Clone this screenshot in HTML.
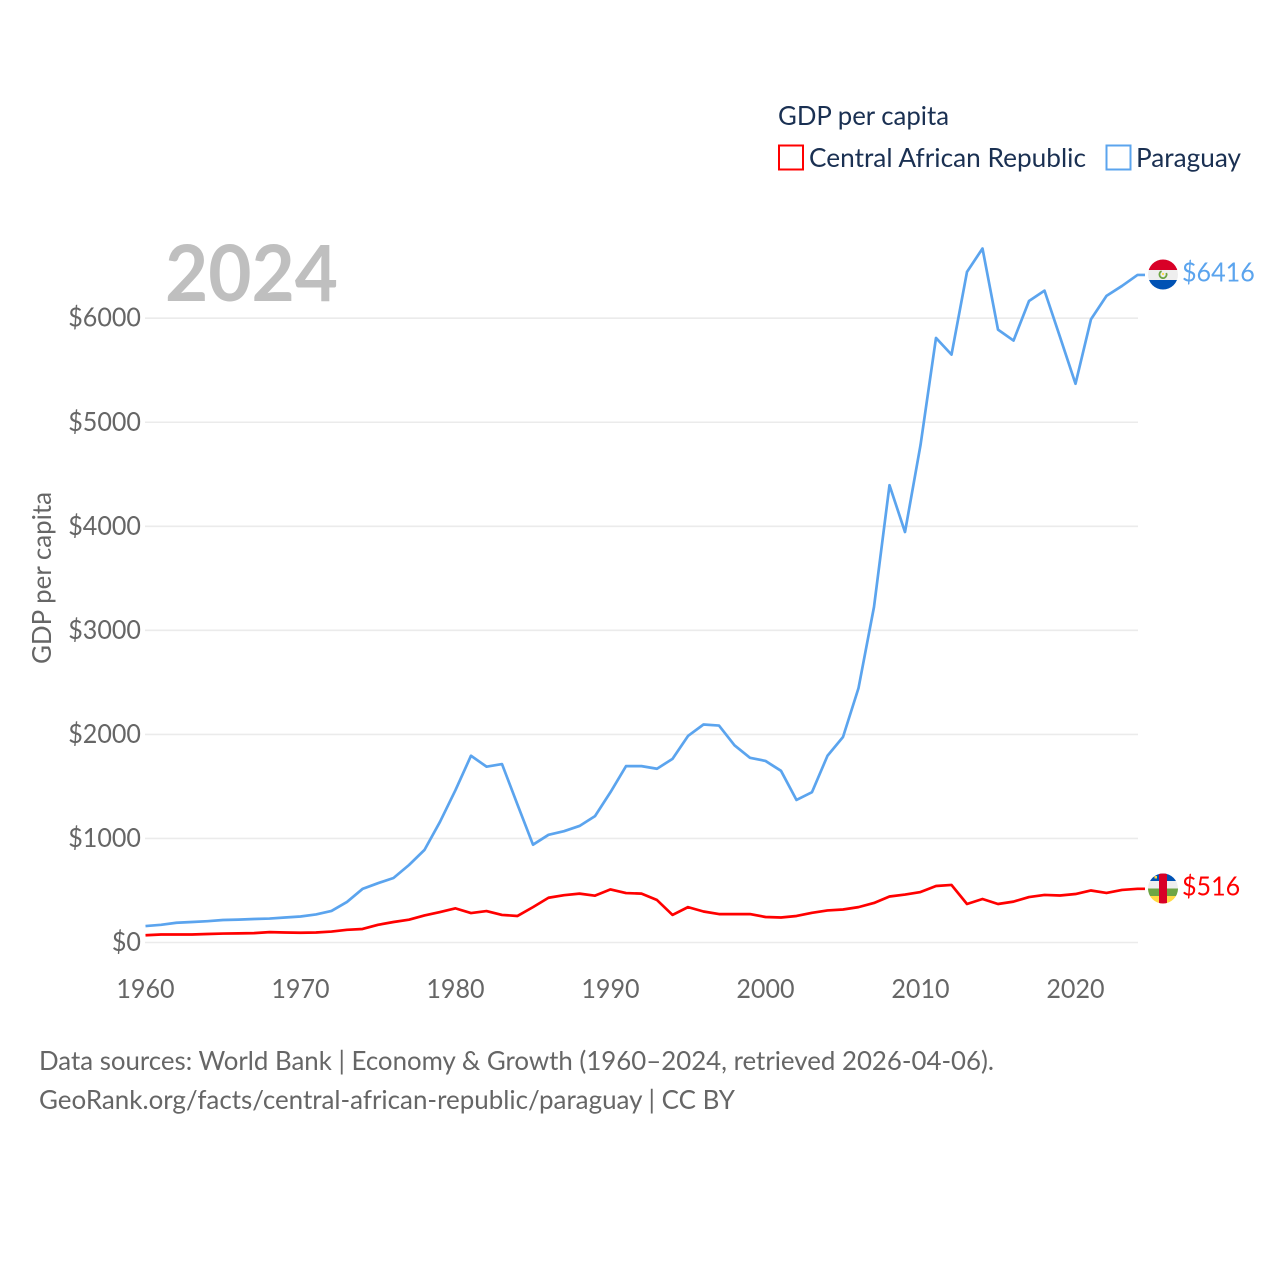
<!DOCTYPE html>
<html lang="en">
<head>
<meta charset="utf-8">
<title>GDP per capita: Central African Republic vs Paraguay</title>
<style>
html,body{margin:0;padding:0;background:#fff;width:1280px;height:1280px;overflow:hidden}
svg{display:block}
text{font-family:"Lato","Carlito","Liberation Sans",sans-serif}
</style>
</head>
<body>
<svg id="chart" xmlns="http://www.w3.org/2000/svg" width="1280" height="1280" viewBox="0 0 1280 1280">
  <defs>
    <clipPath id="clip-py"><circle id="clip-py-c" cx="1163" cy="274.5" r="15"/></clipPath>
    <clipPath id="clip-cf"><circle id="clip-cf-c" cx="1163" cy="888.5" r="15"/></clipPath>
  </defs>
  <rect width="1280" height="1280" fill="#fff"/>
  <g id="grid"></g>
  <text x="165" y="301" font-size="78" font-weight="700" fill="#bfbfbf" textLength="173" lengthAdjust="spacingAndGlyphs">2024</text>
  <g id="yticks"></g>
  <g id="xticks"></g>
  <text transform="translate(51,578) rotate(-90)" text-anchor="middle" font-size="26" fill="#666" textLength="172" lengthAdjust="spacingAndGlyphs">GDP per capita</text>
  <g id="series"></g>

  <g>
    <text x="778" y="125" font-size="26" fill="#1a3052" textLength="171" lengthAdjust="spacingAndGlyphs">GDP per capita</text>
    <g>
      <rect x="779" y="145.5" width="24" height="24" fill="none" stroke="#ff0000" stroke-width="2"/>
      <text x="809" y="167" font-size="26" fill="#1a3052" textLength="277" lengthAdjust="spacingAndGlyphs">Central African Republic</text>
    </g>
    <g>
      <rect x="1106.5" y="145.5" width="24" height="24" fill="none" stroke="#5ba4ee" stroke-width="2"/>
      <text x="1136" y="167" font-size="26" fill="#1a3052" textLength="105" lengthAdjust="spacingAndGlyphs">Paraguay</text>
    </g>
  </g>

  <g id="flag-py" clip-path="url(#clip-py)">
    <rect x="1148" y="259" width="30" height="11" fill="#d80027"/>
    <rect x="1148" y="270" width="30" height="10" fill="#eeeeee"/>
    <rect x="1148" y="280" width="30" height="11" fill="#0052b4"/>
    <circle cx="1163" cy="274.5" r="3.6" fill="none" stroke="#6da544" stroke-width="1.8" stroke-dasharray="17 6" transform="rotate(-25 1163 274.5)"/>
    <circle cx="1163" cy="274" r="1.1" fill="#ffda44"/>
  </g>
  <g id="flag-cf" clip-path="url(#clip-cf)">
    <rect x="1148" y="873" width="30" height="8" fill="#0052b4"/>
    <rect x="1148" y="881" width="30" height="7.5" fill="#eeeeee"/>
    <rect x="1148" y="888.5" width="30" height="7.5" fill="#6da544"/>
    <rect x="1148" y="896" width="30" height="9" fill="#ffda44"/>
    <rect x="1159" y="873" width="8" height="32" fill="#d80027"/>
    <rect x="1154.5" y="876" width="2.5" height="2.5" fill="#ffda44"/>
  </g>
  <g id="endlabels"></g>

  <g>
    <text x="39" y="1070" font-size="26" fill="#666" textLength="955" lengthAdjust="spacingAndGlyphs">Data sources: World Bank | Economy &amp; Growth (1960–2024, retrieved 2026-04-06).</text>
    <text x="39" y="1109" font-size="26" fill="#666" textLength="696" lengthAdjust="spacingAndGlyphs">GeoRank.org/facts/central-african-republic/paraguay | CC BY</text>
  </g>
</svg>
<script>
const years = [1960,1961,1962,1963,1964,1965,1966,1967,1968,1969,1970,1971,1972,1973,1974,1975,1976,1977,1978,1979,1980,1981,1982,1983,1984,1985,1986,1987,1988,1989,1990,1991,1992,1993,1994,1995,1996,1997,1998,1999,2000,2001,2002,2003,2004,2005,2006,2007,2008,2009,2010,2011,2012,2013,2014,2015,2016,2017,2018,2019,2020,2021,2022,2023,2024];
const paraguayValues = [158,170,190,197,205,216,220,226,230,240,250,270,303,390,515,570,620,745,890,1160,1465,1795,1690,1715,1325,940,1035,1070,1120,1215,1445,1695,1695,1670,1765,1985,2095,2085,1895,1775,1745,1650,1370,1445,1795,1975,2445,3225,4395,3945,4780,5810,5650,6445,6670,5890,5785,6165,6265,5820,5370,5990,6215,6310,6416];
const carValues = [70,77,77,77,82,86,88,90,100,96,94,96,105,122,130,170,197,219,260,293,328,283,302,265,255,340,430,455,470,450,510,475,470,408,265,340,298,273,273,273,245,240,255,285,308,317,340,380,442,461,485,543,553,370,418,370,393,437,457,452,466,500,476,505,516];
const yTickValues = [0,1000,2000,3000,4000,5000,6000];
const xTickValues = [1960,1970,1980,1990,2000,2010,2020];

const NS = 'http://www.w3.org/2000/svg';
const xPos = function (yr) { return 145.5 + (yr - 1960) * 15.5; };
const yPos = function (v) { return 942.5 - v * 0.10405; };

function svgEl(tag, parent) {
  const el = document.createElementNS(NS, tag);
  parent.appendChild(el);
  return el;
}

function narrowDigits(t) {
  const len = t.getComputedTextLength();
  t.setAttribute('textLength', (len * 0.965).toFixed(2));
  t.setAttribute('lengthAdjust', 'spacingAndGlyphs');
}

const gridG = document.getElementById('grid');
const yG = document.getElementById('yticks');
yTickValues.forEach(function (v) {
  const ln = svgEl('line', gridG);
  
  
  ln.setAttribute('x1', 145);
  ln.setAttribute('x2', 1138);
  ln.setAttribute('y1', yPos(v));
  ln.setAttribute('y2', yPos(v));
  ln.setAttribute('stroke', '#ebebeb');
  ln.setAttribute('stroke-width', 1.6);
  const t = svgEl('text', yG);
  
  
  t.setAttribute('x', 141);
  t.setAttribute('y', yPos(v) + 8.5);
  t.setAttribute('text-anchor', 'end');
  t.setAttribute('font-size', 26);
  t.setAttribute('fill', '#666');
  t.textContent = '$' + v;
  narrowDigits(t);
});

const xG = document.getElementById('xticks');
xTickValues.forEach(function (yr) {
  const t = svgEl('text', xG);
  
  
  t.setAttribute('x', xPos(yr));
  t.setAttribute('y', 998);
  t.setAttribute('text-anchor', 'middle');
  t.setAttribute('font-size', 26);
  t.setAttribute('fill', '#666');
  t.textContent = String(yr);
  narrowDigits(t);
});

const seriesG = document.getElementById('series');
const labelsG = document.getElementById('endlabels');

function drawSeries(values, color, key) {
  const pts = values.map(function (v, i) { return xPos(years[i]).toFixed(2) + ',' + yPos(v).toFixed(2); });
  const last = values[values.length - 1];
  const endY = yPos(last);
  pts.push('1145,' + endY.toFixed(2));
  const pl = svgEl('polyline', seriesG);
  
  
  pl.setAttribute('points', pts.join(' '));
  pl.setAttribute('fill', 'none');
  pl.setAttribute('stroke', color);
  pl.setAttribute('stroke-width', 2.7);
  pl.setAttribute('stroke-linejoin', 'round');
  const t = svgEl('text', labelsG);
  
  
  t.setAttribute('x', 1182);
  t.setAttribute('y', endY + 6.5);
  t.setAttribute('font-size', 26);
  t.setAttribute('fill', color);
  t.textContent = '$' + last;
  narrowDigits(t);
}

drawSeries(carValues, '#ff0000', 'central-african-republic');
drawSeries(paraguayValues, '#5ba4ee', 'paraguay');
</script>
</body>
</html>
